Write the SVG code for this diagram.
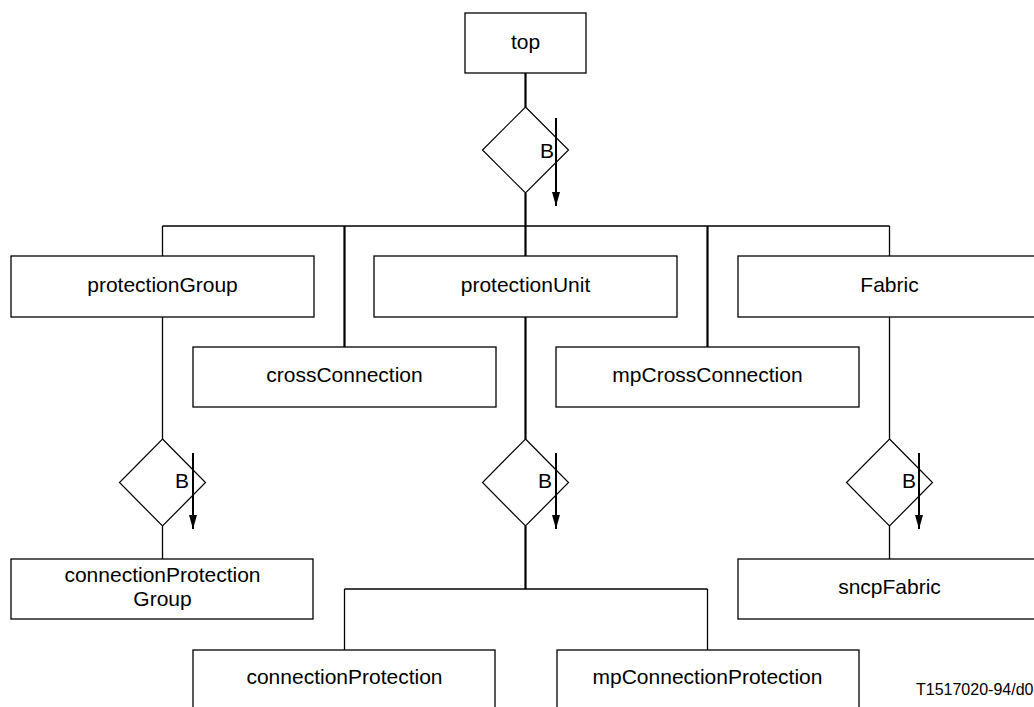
<svg xmlns="http://www.w3.org/2000/svg" width="1034" height="707" viewBox="0 0 1034 707">
<defs>
<style>
.box{fill:#fff;stroke:#000;stroke-width:1.3}
.lbl{font-family:"Liberation Sans",Arial,sans-serif;font-size:21px;fill:#000;text-anchor:middle}
.b{font-family:"Liberation Sans",Arial,sans-serif;font-size:21px;fill:#000}
.thin{fill:none;stroke:#000;stroke-width:1.3}
.thick{fill:none;stroke:#000;stroke-width:2.2}
.dia{fill:#fff;stroke:#000;stroke-width:1.2}
.arr{stroke:#000;stroke-width:2;fill:none;marker-end:url(#ah)}
.foot{font-family:"Liberation Sans",Arial,sans-serif;font-size:16px;fill:#000}
</style>
<marker id="ah" markerWidth="14" markerHeight="8" refX="14" refY="4" orient="auto" markerUnits="userSpaceOnUse" viewBox="0 0 14 8">
<path d="M0,0 L14,4 L0,8 Z" fill="#000"/>
</marker>
</defs>
<rect width="1034" height="707" fill="#fff"/>
<g id="connectors">
<line class="thick" x1="525.5" y1="73" x2="525.5" y2="107"/>
<line class="thick" x1="525.5" y1="193" x2="525.5" y2="256"/>
<line class="thin" x1="162.5" y1="226" x2="889.5" y2="226"/>
<line class="thin" x1="162.5" y1="226" x2="162.5" y2="256"/>
<line class="thick" x1="344.5" y1="226" x2="344.5" y2="347"/>
<line class="thick" x1="707.5" y1="226" x2="707.5" y2="347"/>
<line class="thin" x1="889.5" y1="226" x2="889.5" y2="256"/>
<line class="thin" x1="162.5" y1="317" x2="162.5" y2="439"/>
<line class="thick" x1="525.5" y1="317" x2="525.5" y2="439"/>
<line class="thin" x1="889.5" y1="317" x2="889.5" y2="439"/>
<line class="thin" x1="162.5" y1="526" x2="162.5" y2="559"/>
<line class="thin" x1="889.5" y1="526" x2="889.5" y2="559"/>
<line class="thick" x1="525.5" y1="526" x2="525.5" y2="589"/>
<line class="thin" x1="344.5" y1="589" x2="707.5" y2="589"/>
<line class="thin" x1="344.5" y1="589" x2="344.5" y2="650"/>
<line class="thin" x1="707.5" y1="589" x2="707.5" y2="650"/>
</g>
<g id="top">
<rect class="box" x="465" y="13" width="121" height="60"/>
<text class="lbl" x="525.5" y="49">top</text>
</g>
<g id="rel-top">
<path class="dia" d="M525.5,107 L568.5,150 L525.5,193 L482.5,150 Z"/>
<text class="b" x="540" y="158">B</text>
<line class="arr" x1="556" y1="118" x2="556" y2="206"/>
</g>
<g id="protectionGroup">
<rect class="box" x="11" y="256" width="303" height="61"/>
<text class="lbl" x="162.5" y="292">protectionGroup</text>
</g>
<g id="crossConnection">
<rect class="box" x="193" y="347" width="303" height="60"/>
<text class="lbl" x="344.5" y="382">crossConnection</text>
</g>
<g id="protectionUnit">
<rect class="box" x="374" y="256" width="303" height="61"/>
<text class="lbl" x="525.5" y="292">protectionUnit</text>
</g>
<g id="mpCrossConnection">
<rect class="box" x="556" y="347" width="303" height="60"/>
<text class="lbl" x="707.5" y="382">mpCrossConnection</text>
</g>
<g id="Fabric">
<rect class="box" x="738" y="256" width="303" height="61"/>
<text class="lbl" x="889.5" y="292">Fabric</text>
</g>
<g id="rel-pg">
<path class="dia" d="M162.5,439 L205.5,482.5 L162.5,526 L119.5,482.5 Z"/>
<text class="b" x="175" y="488">B</text>
<line class="arr" x1="193" y1="453" x2="193" y2="529"/>
</g>
<g id="rel-pu">
<path class="dia" d="M525.5,439 L568.5,482.5 L525.5,526 L482.5,482.5 Z"/>
<text class="b" x="538" y="488">B</text>
<line class="arr" x1="556" y1="453" x2="556" y2="529"/>
</g>
<g id="rel-fab">
<path class="dia" d="M889.5,439 L932.5,482.5 L889.5,526 L846.5,482.5 Z"/>
<text class="b" x="902" y="488">B</text>
<line class="arr" x1="919" y1="453" x2="919" y2="529"/>
</g>
<g id="connectionProtectionGroup">
<rect class="box" x="11" y="559" width="302" height="60"/>
<text class="lbl" x="162.5" y="582">connectionProtection</text>
<text class="lbl" x="162.5" y="606">Group</text>
</g>
<g id="sncpFabric">
<rect class="box" x="738" y="559" width="303" height="60"/>
<text class="lbl" x="889.5" y="594">sncpFabric</text>
</g>
<g id="connectionProtection">
<rect class="box" x="193" y="650" width="302" height="70"/>
<text class="lbl" x="344.5" y="684">connectionProtection</text>
</g>
<g id="mpConnectionProtection">
<rect class="box" x="557" y="650" width="302" height="70"/>
<text class="lbl" x="707.5" y="684">mpConnectionProtection</text>
</g>
<text class="foot" x="916" y="695">T1517020-94/d0</text>
</svg>
